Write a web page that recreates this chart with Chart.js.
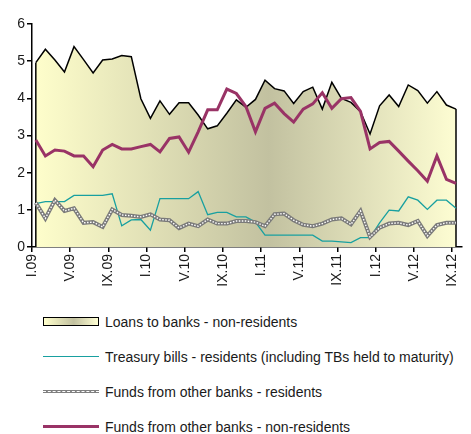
<!DOCTYPE html>
<html>
<head>
<meta charset="utf-8">
<script src="https://cdn.jsdelivr.net/npm/chart.js@4/dist/chart.umd.min.js"></script>
<style>
  body { margin: 0; background: #fff; font-family: "Liberation Sans", Arial, sans-serif; }
  #wrap { position: relative; width: 471px; height: 434px; }
  #chartBox { position: absolute; left: 0; top: 0; width: 471px; height: 300px; }
  #legend { position: absolute; left: 43px; top: 304px; }
  .item { height: 35px; display: flex; align-items: center; font-size: 14px; color: #1a1a1a; }
  .sw { width: 56px; margin-right: 6px; flex: none; }
  .sw-area { height: 9px; border: 1.5px solid #000; box-sizing: border-box;
             background: linear-gradient(90deg, #ffffcc, #c2c1a0 55%, #ffffd4); }
  .sw-teal { height: 1.3px; background: #18a0a0; }
  .sw-gray { height: 3px; background: #808080; position: relative; }
  .sw-gray::after { content: ""; position: absolute; left: 0; right: 0; top: 1px; border-top: 1px dashed #fff; }
  .sw-maroon { height: 3px; background: #993366; }
</style>
</head>
<body>
<div id="wrap">
  <div id="chartBox"><canvas id="chart"></canvas></div>
  <div id="legend">
    <div class="item"><div class="sw sw-area"></div>Loans to banks - non-residents</div>
    <div class="item"><div class="sw sw-teal"></div>Treasury bills - residents (including TBs held to maturity)</div>
    <div class="item"><div class="sw sw-gray"></div>Funds from other banks - residents</div>
    <div class="item"><div class="sw sw-maroon"></div>Funds from other banks - non-residents</div>
  </div>
</div>
<script>
// monthly values, I.09 .. IX.12
const tickLabels = ["I.09", "V.09", "IX.09", "I.10", "V.10", "IX.10", "I.11", "V.11", "IX.11", "I.12", "V.12", "IX.12"];

const loansNonRes = [4.96, 5.32, 5.03, 4.71, 5.39, 5.04, 4.68, 5.03, 5.06, 5.15, 5.12, 3.99, 3.46, 3.93, 3.57,
  3.88, 3.88, 3.55, 3.18, 3.26, 3.60, 3.96, 3.76, 3.97, 4.49, 4.26, 4.20, 3.86, 4.18, 4.30,
  3.71, 4.43, 4.00, 3.89, 3.64, 3.04, 3.80, 4.09, 3.78, 4.36, 4.21, 3.87, 4.18, 3.82, 3.71];

const tbillsRes = [1.17, 1.22, 1.22, 1.22, 1.39, 1.39, 1.39, 1.39, 1.43, 0.57, 0.73, 0.74, 0.45, 1.30, 1.30,
  1.30, 1.30, 1.49, 0.87, 0.93, 0.93, 0.81, 0.81, 0.67, 0.32, 0.32, 0.32, 0.32, 0.32, 0.32,
  0.16, 0.16, 0.14, 0.12, 0.25, 0.25, 0.65, 0.99, 0.97, 1.35, 1.26, 1.01, 1.26, 1.26, 1.04];

const fundsRes = [1.19, 0.77, 1.26, 0.97, 1.04, 0.65, 0.67, 0.54, 1.01, 0.86, 0.84, 0.81, 0.88, 0.74, 0.72,
  0.51, 0.63, 0.56, 0.74, 0.63, 0.63, 0.70, 0.70, 0.67, 0.56, 0.88, 0.90, 0.72, 0.60, 0.56,
  0.63, 0.74, 0.77, 0.61, 0.97, 0.27, 0.52, 0.63, 0.65, 0.59, 0.70, 0.30, 0.59, 0.65, 0.65];

const fundsNonRes = [2.88, 2.45, 2.61, 2.58, 2.45, 2.45, 2.16, 2.61, 2.76, 2.64, 2.64, 2.70, 2.76, 2.56, 2.92,
  2.96, 2.55, 3.10, 3.69, 3.69, 4.25, 4.13, 3.78, 3.10, 3.73, 3.87, 3.59, 3.36, 3.71, 3.85,
  4.15, 3.73, 3.99, 4.02, 3.65, 2.64, 2.81, 2.84, 2.58, 2.31, 2.05, 1.77, 2.45, 1.82, 1.71];

// points sit a bit right of the month tick
const toXY = arr => arr.map((v, i) => ({ x: i + 0.4, y: v }));

function areaGradient(ctx) {
  const a = ctx.chart.chartArea;
  if (!a) return "#e6e4bc";
  const g = ctx.chart.ctx.createLinearGradient(a.left, 0, a.right, 0);
  g.addColorStop(0, "#ffffcc");
  g.addColorStop(0.55, "#c2c1a0");
  g.addColorStop(1, "#ffffd4");
  return g;
}

// closes the area on its left and right sides
const areaEdges = {
  id: "areaEdges",
  afterDatasetDraw(chart, args) {
    if (args.index !== 0) return;
    const pts = args.meta.data;
    const y0 = chart.scales.y.getPixelForValue(0);
    const c = chart.ctx;
    c.save();
    c.strokeStyle = "#000";
    c.lineWidth = 1.5;
    [pts[0], pts[pts.length - 1]].forEach(p => {
      c.beginPath();
      c.moveTo(p.x, y0);
      c.lineTo(p.x, p.y);
      c.stroke();
    });
    c.restore();
  }
};

const tickFont = { family: "'Liberation Sans', Arial, sans-serif", size: 14 };

new Chart(document.getElementById("chart"), {
  type: "line",
  data: {
    datasets: [
      {
        label: "Loans to banks - non-residents",
        data: toXY(loansNonRes),
        borderColor: "#000",
        borderWidth: 1.5,
        backgroundColor: areaGradient,
        fill: "origin",
        order: 4
      },
      {
        label: "Treasury bills - residents (including TBs held to maturity)",
        data: toXY(tbillsRes),
        borderColor: "#18a0a0",
        borderWidth: 1.3,
        fill: false,
        order: 3
      },
      {
        label: "Funds from other banks - residents",
        data: toXY(fundsRes),
        borderColor: "#7a7a7a",
        borderWidth: 4,
        fill: false,
        order: 2
      },
      {
        label: "residents-dots",
        data: toXY(fundsRes),
        borderColor: "#ffffff",
        borderWidth: 1.4,
        borderDash: [1.5, 1.5],
        fill: false,
        order: 1
      },
      {
        label: "Funds from other banks - non-residents",
        data: toXY(fundsNonRes),
        borderColor: "#993366",
        borderWidth: 3,
        fill: false,
        order: 0
      }
    ]
  },
  options: {
    responsive: true,
    maintainAspectRatio: false,
    animation: false,
    elements: { point: { radius: 0 }, line: { tension: 0, borderJoinStyle: "miter" } },
    layout: { padding: { top: 24, right: 1, left: 0, bottom: 0 } },
    plugins: { legend: { display: false }, tooltip: { enabled: false } },
    scales: {
      x: {
        type: "linear",
        min: 0,
        max: 45,
        afterFit: s => { s.height = 53; },
        afterBuildTicks: s => { s.ticks = tickLabels.map((_, k) => ({ value: k * 4 })); },
        grid: { drawOnChartArea: false, drawTicks: true, tickLength: 5, color: "#000", lineWidth: 1.5 },
        border: { color: "#000", width: 1.5 },
        ticks: {
          autoSkip: false,
          minRotation: 90,
          maxRotation: 90,
          padding: 2,
          color: "#1a1a1a",
          font: tickFont,
          callback: v => tickLabels[Math.round(v / 4)]
        }
      },
      y: {
        min: 0,
        max: 6,
        afterFit: s => { s.width = 32; },
        grid: { drawOnChartArea: false, drawTicks: true, tickLength: 5, color: "#000", lineWidth: 1.5 },
        border: { color: "#000", width: 1.5 },
        ticks: { stepSize: 1, padding: 2, color: "#1a1a1a", font: tickFont }
      }
    }
  },
  plugins: [areaEdges]
});
</script>
</body>
</html>
